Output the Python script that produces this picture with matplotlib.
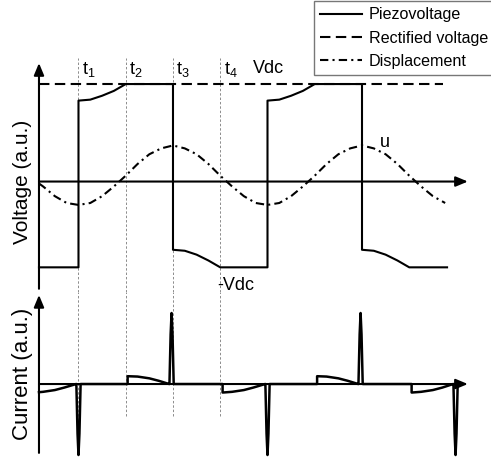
import matplotlib
matplotlib.use("Agg")
import matplotlib.pyplot as plt

plt.rcParams['font.family'] = ['Liberation Sans', 'DejaVu Sans']
plt.rcParams['mathtext.fontset'] = 'custom'
plt.rcParams['mathtext.rm'] = 'Liberation Sans'

# time in units of a quarter period, t1..t4 = 1..4
marks = [1, 2, 3, 4]
mark_labels = [r'$\mathrm{t_1}$', r'$\mathrm{t_2}$', r'$\mathrm{t_3}$', r'$\mathrm{t_4}$']

# piezovoltage (Vdc = 1)
piezo_t = [0.164, 1, 1, 1.25, 1.5, 1.75, 2, 3, 3, 3.25, 3.5, 3.75, 4,
           5, 5, 5.25, 5.5, 5.75, 6, 7, 7, 7.25, 7.5, 7.75, 8, 8.8]
piezo_v = [-0.88, -0.88, 0.83, 0.84, 0.88, 0.93, 1.0, 1.0, -0.70, -0.71, -0.75, -0.81, -0.88,
           -0.88, 0.83, 0.84, 0.88, 0.93, 1.0, 1.0, -0.70, -0.71, -0.75, -0.81, -0.88, -0.88]

# rectified voltage
rect_t = [0.164, 8.71]
rect_v = [1.0, 1.0]

# displacement
disp_t = [0.164, 0.25, 0.5, 0.75, 1, 1.25, 1.5, 1.75, 2, 2.25, 2.5, 2.75, 3, 3.25, 3.5, 3.75,
          4, 4.25, 4.5, 4.75, 5, 5.25, 5.5, 5.75, 6, 6.25, 6.5, 6.75, 7, 7.25, 7.5, 7.75,
          8, 8.25, 8.5, 8.76]
disp_u = [-0.02, -0.05, -0.15, -0.22, -0.24, -0.22, -0.15, -0.05, 0.06, 0.18, 0.28, 0.34, 0.37, 0.34, 0.28, 0.18,
          0.06, -0.05, -0.15, -0.22, -0.24, -0.22, -0.15, -0.05, 0.06, 0.18, 0.28, 0.34, 0.37, 0.34, 0.28, 0.18,
          0.06, -0.05, -0.15, -0.22]

# current
cur_t = [0.164, 0.25, 0.5, 0.7, 0.95,
         0.955, 0.98, 1.0, 1.02, 1.045,
         2.04, 2.04, 2.25, 2.5, 2.7, 2.92,
         2.925, 2.95, 2.97, 2.99, 3.015,
         4.05, 4.05, 4.25, 4.5, 4.7, 4.95,
         4.955, 4.98, 5.0, 5.02, 5.045,
         6.05, 6.05, 6.25, 6.5, 6.7, 6.92,
         6.925, 6.95, 6.97, 6.99, 7.015,
         8.05, 8.05, 8.25, 8.5, 8.7, 8.93,
         8.935, 8.96, 8.98, 9.0, 9.025]
cur_i = [-0.115, -0.11, -0.085, -0.05, 0,
         0, -0.7, -1.0, -0.7, 0,
         0, 0.11, 0.105, 0.08, 0.045, 0,
         0, 0.7, 1.0, 0.7, 0,
         0, -0.12, -0.11, -0.085, -0.05, 0,
         0, -0.7, -1.0, -0.7, 0,
         0, 0.11, 0.105, 0.08, 0.045, 0,
         0, 0.7, 1.0, 0.7, 0,
         0, -0.12, -0.11, -0.085, -0.05, 0,
         0, -0.7, -1.0, -0.7, 0]

W, H = 491, 459
fig = plt.figure(figsize=(W / 100, H / 100), dpi=100)
ax1 = fig.add_axes([0, (H - 292) / H, 1, 292 / H])
ax2 = fig.add_axes([0, 0, 1, (H - 292) / H])
for ax in (ax1, ax2):
    ax.set_xlim(-0.661, 9.730)
    ax.axis('off')
ax1.set_ylim(-1.133, 1.862)
ax2.set_ylim(-1.056, 1.296)

lw = 1.5
arrow = dict(arrowstyle='-|>,head_length=0.6,head_width=0.25', color='k', lw=lw,
             mutation_scale=12, shrinkA=0, shrinkB=0)
x0 = 0.164

# axes with arrows
ax1.annotate('', xy=(x0, 1.215), xytext=(x0, -1.10), arrowprops=arrow)
ax1.annotate('', xy=(9.24, 0), xytext=(x0, 0), arrowprops=arrow)
ax2.annotate('', xy=(x0, 1.254), xytext=(x0, -0.97), arrowprops=arrow)
ax2.annotate('', xy=(9.24, 0), xytext=(x0, 0), arrowprops=arrow)

# time markers
ax1.vlines(marks, -1.133, 1.27, colors='#8c8c8c', lw=0.7, linestyles=(0, (2.5, 2)), zorder=1)
ax2.vlines(marks, -0.45, 1.296, colors='#8c8c8c', lw=0.7, linestyles=(0, (2.5, 2)), zorder=1)

ax1.plot(piezo_t, piezo_v, color='k', lw=lw, label='Piezovoltage', zorder=3)
ax1.plot(rect_t, rect_v, color='k', lw=lw, dashes=(5, 2.6), label='Rectified voltage', zorder=3)
ax1.plot(disp_t, disp_u, color='k', lw=lw, dashes=(4, 2, 1, 2), label='Displacement', zorder=3)
ax2.plot(cur_t, cur_i, color='k', lw=1.8, zorder=3, solid_joinstyle='round')

for t, s in zip(marks, mark_labels):
    ax1.text(t + 0.07, 1.10, s, fontsize=13, ha='left', va='baseline')
ax1.text(4.69, 1.11, 'Vdc', fontsize=13, ha='left', va='baseline')
ax1.text(3.93, -1.11, '-Vdc', fontsize=13, ha='left', va='baseline')
ax1.text(7.38, 0.357, 'u', fontsize=13, ha='left', va='baseline')

fig.text(22.5 / W, 1 - 181.5 / H, 'Voltage (a.u.)', rotation=90, fontsize=15,
         ha='center', va='center')
fig.text(22.5 / W, 1 - 374 / H, 'Current (a.u.)', rotation=90, fontsize=16,
         ha='center', va='center')

leg = fig.legend(*ax1.get_legend_handles_labels(), loc='upper left',
                 bbox_to_anchor=(314 / W, 1 - 1 / H), fontsize=11.6, handlelength=2.6,
                 handletextpad=0.4, labelspacing=0.5, borderpad=0.4, borderaxespad=0,
                 fancybox=False, framealpha=1)
leg.get_frame().set_edgecolor('#777777')
leg.get_frame().set_linewidth(1)

fig.savefig('out.png', dpi=100)
